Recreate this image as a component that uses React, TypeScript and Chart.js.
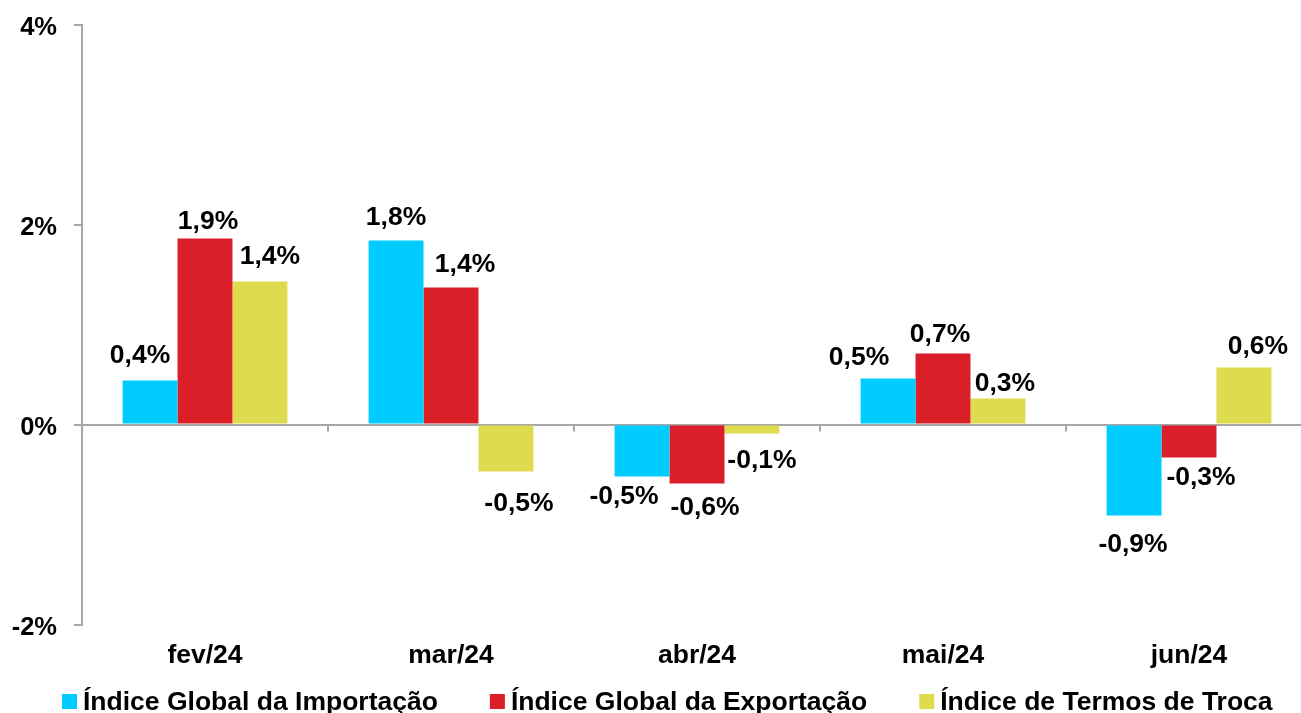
import React, { useEffect, useRef } from "react";
import { Chart, registerables } from "chart.js";
Chart.register(...registerables);

const categories = ["fev/24", "mar/24", "abr/24", "mai/24", "jun/24"];
const importIndex = [0.44, 1.84, -0.52, 0.46, -0.91];
const exportIndex = [1.86, 1.37, -0.59, 0.71, -0.33];
const termsIndex = [1.43, -0.47, -0.09, 0.26, 0.57];
const seriesNames = [
  "Índice Global da Importação",
  "Índice Global da Exportação",
  "Índice de Termos de Troca",
];
const seriesColors = ["#00CCFF", "#DA1F28", "#DEDC4E"];
const yMin = -2;
const yMax = 4;
const yStep = 2;

// label nudges (dx, dy) from the bar end, per series and category
const labelOffsets = [
  [[-10, -27], [0, -25], [-18, 18], [-29, -23], [-1, 27]],
  [[3, -19], [14, -25], [8, 22], [-3, -21], [12, 18]],
  [[10, -27], [13, 30], [10, 25], [7, -17], [14, -23]],
];

const FONT = "'Liberation Sans', Arial, sans-serif";
const FS = 26.5;
const FS_Y = 25.5;
const AXIS_GRAY = "#A6A6A6";

const fmt = (v: number) => v.toFixed(1).replace(".", ",") + "%";

const labelPlugin = {
  id: "valueLabels",
  afterDatasetsDraw(chart: any) {
    const ctx = chart.ctx;
    ctx.save();
    ctx.font = `bold ${FS}px ${FONT}`;
    ctx.fillStyle = "#000";
    ctx.textAlign = "center";
    ctx.textBaseline = "alphabetic";
    chart.data.datasets.forEach((ds: any, di: number) => {
      const meta = chart.getDatasetMeta(di);
      meta.data.forEach((el: any, i: number) => {
        const v = ds.data[i];
        const [dx, dy] = labelOffsets[di][i];
        ctx.fillText(fmt(v), el.x + dx, el.y + dy + 0.358 * FS);
      });
    });
    ctx.restore();
  },
};

const decoPlugin = {
  id: "deco",
  afterDraw(chart: any) {
    const ctx = chart.ctx;
    const x = chart.scales.x;
    const y = chart.scales.y;
    const y0 = y.getPixelForValue(0);
    ctx.save();
    // category tick marks on the zero line
    ctx.strokeStyle = AXIS_GRAY;
    ctx.lineWidth = 2;
    const n = chart.data.labels.length;
    const w = (x.right - x.left) / n;
    for (let i = 1; i < n; i++) {
      const px = Math.round(x.left + w * i);
      ctx.beginPath();
      ctx.moveTo(px, y0);
      ctx.lineTo(px, y0 + 7);
      ctx.stroke();
    }
    // legend
    ctx.font = `bold ${FS}px ${FONT}`;
    ctx.textAlign = "left";
    ctx.textBaseline = "alphabetic";
    let lx = 62;
    const box = 15;
    const boxTop = 694;
    const baseline = 710;
    chart.data.datasets.forEach((ds: any) => {
      ctx.fillStyle = ds.backgroundColor;
      ctx.fillRect(lx, boxTop, box, box);
      ctx.fillStyle = "#000";
      ctx.fillText(ds.label, lx + box + 6, baseline);
      lx += box + 6 + ctx.measureText(ds.label).width + 52;
    });
    ctx.restore();
  },
};

export default function App() {
  const ref = useRef<HTMLCanvasElement | null>(null);
  useEffect(() => {
    if (!ref.current) return;
    const chart = new Chart(ref.current, {
      type: "bar",
      data: {
        labels: categories,
        datasets: [importIndex, exportIndex, termsIndex].map((d, i) => ({
          label: seriesNames[i],
          data: d,
          backgroundColor: seriesColors[i],
          borderWidth: 0,
          categoryPercentage: 0.67,
          barPercentage: 1,
        })),
      },
      options: {
        responsive: false,
        animation: false,
        devicePixelRatio: 1,
        layout: { padding: { top: 24.5, right: 8, left: 0, bottom: 0 } },
        plugins: {
          legend: { display: false },
          tooltip: { enabled: false },
        },
        scales: {
          x: {
            grid: { display: false, drawTicks: false },
            border: { display: false },
            ticks: {
              color: "#000",
              font: { family: FONT, size: FS, weight: "bold" },
              padding: 15,
            },
            afterFit: (s: any) => {
              s.height = 88.5;
              s.paddingLeft = 0;
              s.paddingRight = 0;
            },
          },
          y: {
            min: yMin,
            max: yMax,
            ticks: {
              stepSize: yStep,
              color: "#000",
              font: { family: FONT, size: FS_Y, weight: "bold" },
              padding: 17,
              labelOffset: 3,
              callback: (v: any) => v + "%",
            },
            grid: {
              color: (c: any) => (c.tick && c.tick.value === 0 ? AXIS_GRAY : "rgba(0,0,0,0)"),
              lineWidth: 2,
              tickColor: AXIS_GRAY,
              tickWidth: 2,
              tickLength: 8,
            },
            border: { display: true, color: AXIS_GRAY, width: 2 },
            afterFit: (s: any) => {
              s.width = 82;
              s.paddingTop = 0;
              s.paddingBottom = 0;
            },
          },
        },
      },
      plugins: [labelPlugin, decoPlugin],
    } as any);
    return () => chart.destroy();
  }, []);
  return (
    <div
      style={{
        position: "fixed",
        left: 0,
        top: 0,
        width: 1301,
        height: 713,
        overflow: "hidden",
        background: "#fff",
      }}
    >
      <canvas ref={ref} width={1320} height={713} style={{ display: "block" }} />
    </div>
  );
}
